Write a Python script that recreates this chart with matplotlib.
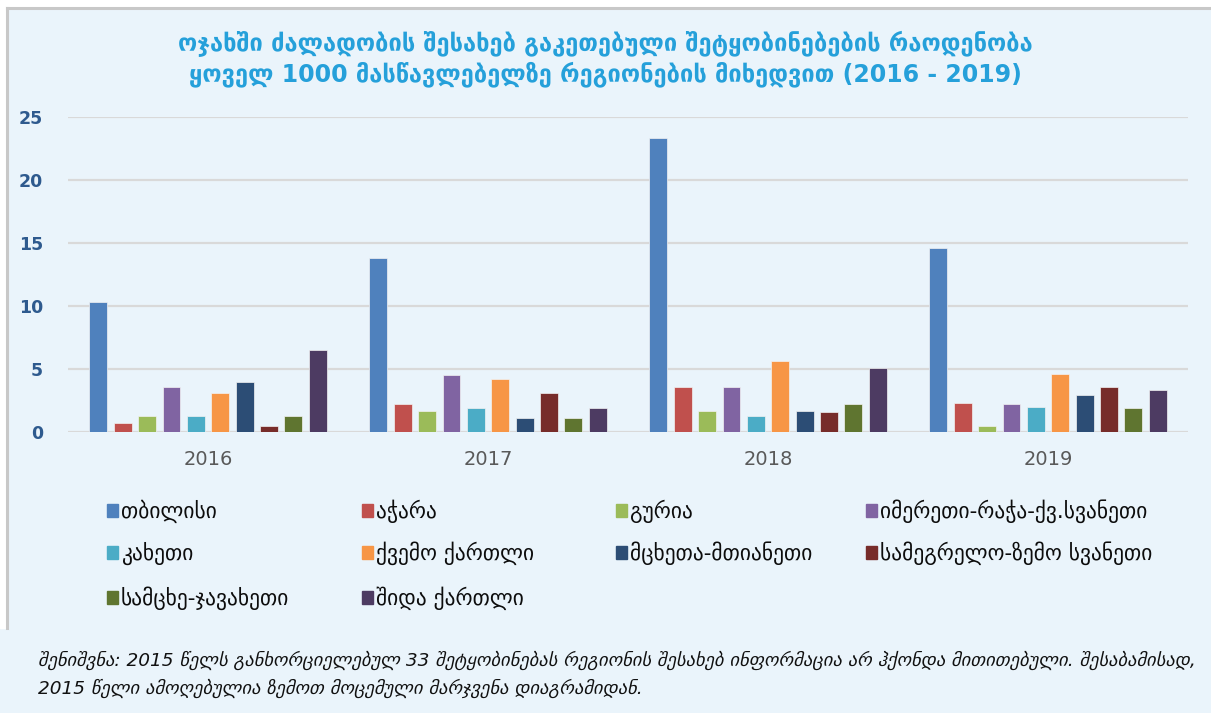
import matplotlib
matplotlib.use("Agg")
import matplotlib.pyplot as plt
from matplotlib.patches import Rectangle
from matplotlib.lines import Line2D
import numpy as np

plt.rcParams['font.family'] = ['DejaVu Sans']

years = ["2016", "2017", "2018", "2019"]
regions = ["თბილისი", "აჭარა", "გურია", "იმერეთი-რაჭა-ქვ.სვანეთი",
           "კახეთი", "ქვემო ქართლი", "მცხეთა-მთიანეთი", "სამეგრელო-ზემო სვანეთი",
           "სამცხე-ჯავახეთი", "შიდა ქართლი"]
tbilisi      = [10.3, 13.8, 23.3, 14.6]
adjara       = [0.7, 2.2, 3.6, 2.3]
guria        = [1.3, 1.7, 1.7, 0.5]
imereti      = [3.6, 4.5, 3.6, 2.2]
kakheti      = [1.3, 1.9, 1.3, 2.0]
kvemo        = [3.1, 4.2, 5.6, 4.6]
mtskheta     = [4.0, 1.1, 1.7, 2.9]
samegrelo    = [0.5, 3.1, 1.6, 3.6]
samtskhe     = [1.3, 1.1, 2.2, 1.9]
shida        = [6.5, 1.9, 5.1, 3.3]
series = [tbilisi, adjara, guria, imereti, kakheti, kvemo, mtskheta, samegrelo, samtskhe, shida]
yticks = [0, 5, 10, 15, 20, 25]

colors = ["#4F81BD", "#C0504D", "#9BBB59", "#8064A2", "#4BACC6",
          "#F79646", "#2C4D75", "#772C2A", "#5F7530", "#4D3B62"]
title_lines = ["ოჯახში ძალადობის შესახებ გაკეთებული შეტყობინებების რაოდენობა",
               "ყოველ 1000 მასწავლებელზე რეგიონების მიხედვით (2016 - 2019)"]
note_lines = ["შენიშვნა: 2015 წელს განხორციელებულ 33 შეტყობინებას რეგიონის შესახებ ინფორმაცია არ ჰქონდა მითითებული. შესაბამისად,",
              "2015 წელი ამოღებულია ზემოთ მოცემული მარჯვენა დიაგრამიდან."]

BG = "#EAF4FB"
W, H = 1211, 713
fig = plt.figure(figsize=(W/100, H/100), dpi=100, facecolor=BG)

# white top strip / left strip and grey frame lines
fig.patches.append(Rectangle((0, 1-7/H), 1, 7/H, transform=fig.transFigure, color="white", zorder=0))
fig.patches.append(Rectangle((0, 1-628/H), 6/W, 628/H, transform=fig.transFigure, color="white", zorder=0))
fig.lines.append(Line2D([6.5/W, 1], [1-8/H, 1-8/H], transform=fig.transFigure, color="#C8C8C8", lw=2.2))
fig.lines.append(Line2D([7/W, 7/W], [1-8/H, 1-628/H], transform=fig.transFigure, color="#C8C8C8", lw=2.2))

ax = fig.add_axes([68/W, 1-432/H, (1188-68)/W, (432-117)/H])
ax.set_facecolor(BG)
x = np.arange(len(years))
slot = 0.087
bw = 0.064
for j, (vals, c) in enumerate(zip(series, colors)):
    ax.bar(x + (j-4.5)*slot, vals, width=bw, color=c, edgecolor="#F2F2F2", linewidth=0.5, zorder=3)

ax.set_xlim(-0.5, 3.5)
ax.set_ylim(0, 25)
ax.set_yticks(yticks)
ax.set_yticklabels([str(v) for v in yticks], color="#2E5A8E", fontsize=12.5, fontweight="bold")
ax.set_xticks(x)
ax.set_xticklabels(years, color="#595959", fontsize=14)
ax.tick_params(axis="both", length=0)
ax.tick_params(axis="y", pad=18)
ax.tick_params(axis="x", pad=13)
for s in ax.spines.values():
    s.set_visible(False)
ax.yaxis.grid(True, color="#D9D9D9", lw=1.6, zorder=0)
ax.set_axisbelow(True)

# title
fig.text(605/W, 1-44/H, title_lines[0], ha="center", va="center", fontsize=17, fontweight="bold", color="#25A0DA")
fig.text(605/W, 1-74/H, title_lines[1], ha="center", va="center", fontsize=17, fontweight="bold", color="#25A0DA")

# legend (manual grid)
col_x = [107, 362, 616, 866]
row_y = [511, 553, 598]
for k, (name, c) in enumerate(zip(regions, colors)):
    r, cidx = divmod(k, 4)
    xx, yy = col_x[cidx], row_y[r]
    fig.patches.append(Rectangle((xx/W, 1-(yy+6)/H), 11/W, 13/H, transform=fig.transFigure, color=c))
    fig.text((xx+14)/W, 1-yy/H, name, ha="left", va="center", fontsize=15.5, color="#0D0D0D")

# note
fig.text(38/W, 1-660/H, note_lines[0], ha="left", va="center", fontsize=13.3, style="italic", color="#111111")
fig.text(38/W, 1-688/H, note_lines[1], ha="left", va="center", fontsize=13.3, style="italic", color="#111111")

fig.savefig("out.png", dpi=100, facecolor=BG)
